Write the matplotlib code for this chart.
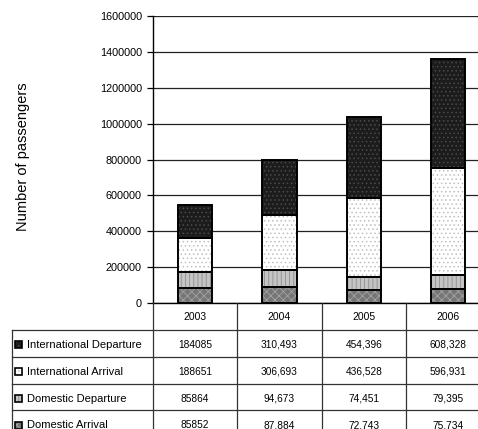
import numpy as np
import matplotlib
matplotlib.use("Agg")
import matplotlib.pyplot as plt
from matplotlib.patches import Rectangle
from matplotlib.ticker import FuncFormatter, MultipleLocator

plt.rcParams['font.family'] = ['Liberation Sans', 'DejaVu Sans']
plt.rcParams['hatch.linewidth'] = 0.6

years = ['2003', '2004', '2005', '2006']
dom_arrival = [85852, 87884, 72743, 75734]
dom_departure = [85864, 94673, 74451, 79395]
intl_arrival = [188651, 306693, 436528, 596931]
intl_departure = [184085, 310493, 454396, 608328]

# stacked bottom -> top
series = [
    ('Domestic Arrival', dom_arrival),
    ('Domestic Departure', dom_departure),
    ('International Arrival', intl_arrival),
    ('International Departure', intl_departure),
]
# face, hatch, hatch colour
styles = {
    'Domestic Arrival': ('#767676', 'xxxx', '#a4a4a4'),
    'Domestic Departure': ('#c4c4c4', '||||', '#8e8e8e'),
    'International Arrival': ('#ffffff', '....', '#c0c0c0'),
    'International Departure': ('#1c1c1c', '....', '#4a4a4a'),
}

W, H = 478, 429
x_axis, col_w = 153, 84.33
y_top, y_zero = 16, 303

fig = plt.figure(figsize=(W / 100, H / 100), dpi=100)
ax = fig.add_axes([x_axis / W, (H - y_zero) / H, 4 * col_w / W, (y_zero - y_top) / H])

x = np.arange(len(years))
bottom = np.zeros(len(years))
for name, vals in series:
    face, hatch, hcol = styles[name]
    ax.bar(x, vals, 0.41, bottom=bottom, color=face, hatch=hatch,
           edgecolor=hcol, linewidth=0, zorder=3)
    ax.bar(x, vals, 0.41, bottom=bottom, fill=False, edgecolor='black',
           linewidth=1.4, zorder=4)
    bottom += np.array(vals)

ax.set_xlim(-0.5, len(years) - 0.5)
ax.set_ylim(0, 1600000)
ax.yaxis.set_major_locator(MultipleLocator(200000))
ax.yaxis.set_major_formatter(FuncFormatter(lambda v, p: f"{int(v)}"))
ax.grid(axis='y', color='#222222', linewidth=0.9, zorder=0)
ax.set_xticks([])
ax.tick_params(axis='y', length=4, width=0.9, pad=4, labelsize=7.8)
for s in ['top', 'right']:
    ax.spines[s].set_visible(False)
ax.spines['left'].set_linewidth(1.0)
ax.spines['bottom'].set_linewidth(1.0)
ax.set_ylabel('Number of passengers', fontsize=10.5)
ax.yaxis.set_label_coords(-(x_axis - 30) / (4 * col_w), 0.51)

# data table under the plot, drawn in pixel coordinates
tab = fig.add_axes([0, 0, 1, 1], facecolor='none')
tab.set_xlim(0, W)
tab.set_ylim(H, 0)
tab.axis('off')

row_top = 330
row_h = 26.8
left = 12
right = x_axis + 4 * col_w
lc = '#333333'

# vertical lines
tab.plot([left, left], [row_top, H + 5], color=lc, lw=0.9)
for i in range(len(years)):
    xi = x_axis + i * col_w
    tab.plot([xi, xi], [y_zero, H + 5], color=lc, lw=0.9)
# horizontal lines
for j in range(len(series) + 1):
    yj = row_top + j * row_h
    tab.plot([left, right], [yj, yj], color=lc, lw=0.9)

for i, yr in enumerate(years):
    tab.text(x_axis + (i + 0.5) * col_w, (y_zero + row_top) / 2 + 1, yr,
             ha='center', va='center', fontsize=7.5)

for j, (name, vals) in enumerate(reversed(series)):
    yc = row_top + (j + 0.5) * row_h + 1.5
    face, hatch, hcol = styles[name]
    tab.add_patch(Rectangle((15.5, yc - 3.5), 7, 7, facecolor=face, hatch=hatch,
                            edgecolor=hcol, linewidth=0))
    tab.add_patch(Rectangle((15.5, yc - 3.5), 7, 7, fill=False,
                            edgecolor='black', linewidth=1.2))
    tab.text(27.5, yc, name, ha='left', va='center', fontsize=8)
    for i, v in enumerate(vals):
        label = f"{v}" if i == 0 else f"{v:,}"
        tab.text(x_axis + (i + 0.5) * col_w, yc, label,
                 ha='center', va='center', fontsize=7.3)

fig.savefig('out.png', dpi=100)
